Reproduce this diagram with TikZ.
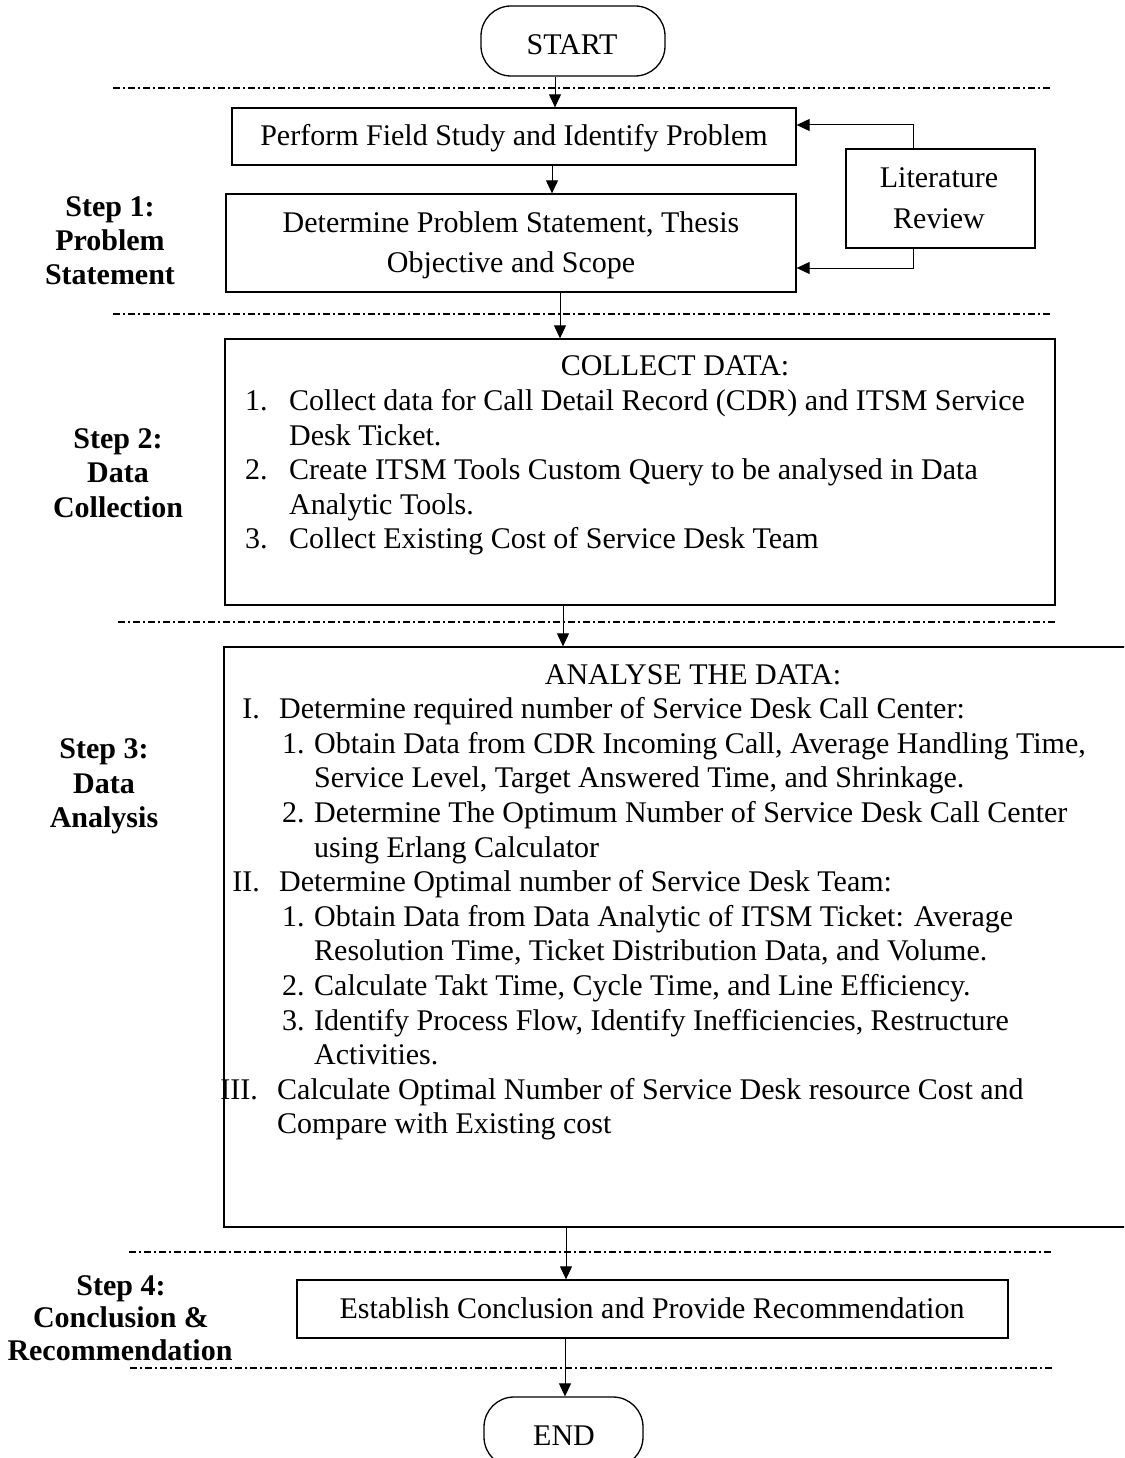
\documentclass[tikz,border=0pt]{standalone}
\usepackage{fontspec}
\setmainfont{Liberation Serif}
\usetikzlibrary{arrows.meta}
\begin{document}
\begin{tikzpicture}[x=1pt,y=-1pt,
  box/.style={draw, line width=1.3pt, inner sep=0pt},
  term/.style={box, rounded corners=30pt},
  txt/.style={inner sep=0pt, anchor=base, font=\fontsize{30}{34}\selectfont},
  txtl/.style={txt, anchor=base west},
  txtr/.style={txt, anchor=base east},
  stp/.style={txt, font=\bfseries\fontsize{30}{34}\selectfont},
  arr/.style={line width=1pt, -{Triangle[length=13pt,width=12pt]}},
  sep/.style={line width=1.2pt, dash pattern=on 7pt off 3pt on 2pt off 3pt}
]
\useasboundingbox (0,0) rectangle (1124,1458);
\clip (0,0) rectangle (1124,1458);

% phase separators
\draw[sep] (113,88) -- (1052,88);
\draw[sep] (113,314) -- (1052,314);
\draw[sep] (118,622) -- (1055,622);
\draw[sep] (129,1252) -- (1052,1252);
\draw[sep] (130,1368) -- (1052,1368);

% boxes
\node[term, minimum width=184pt, minimum height=70pt] (start) at (573,41) {};
\node[box, minimum width=564pt, minimum height=57pt] (box1) at (514,136.5) {};
\node[box, minimum width=570pt, minimum height=98pt] (box2) at (511,243) {};
\node[box, minimum width=189pt, minimum height=99pt] (lit) at (940.5,198.5) {};
\node[box, minimum width=830pt, minimum height=266pt] (box3) at (640,472) {};
\node[box, minimum width=906pt, minimum height=580pt] (box4) at (677,937) {};
\node[box, minimum width=711pt, minimum height=58pt] (box5) at (652.5,1309) {};
\node[term, minimum width=159pt, minimum height=70pt] (end) at (563.5,1432) {};

% texts of the boxes
\node[txt] (tstart) at (572,55) {START};
\node[txt] (t1) at (514,146) {Perform Field Study and Identify Problem};
\node[txt] (t2a) at (511,232) {Determine Problem Statement, Thesis};
\node[txt] (t2b) at (511,272) {Objective and Scope};
\node[txt] (tla) at (939,187) {Literature};
\node[txt] (tlb) at (939,228) {Review};

\node[txt] (c0) at (675,375) {COLLECT DATA:};
\node[txtl] (c1n) at (245,410) {1.};
\node[txtl] (c1) at (289,410) {Collect data for Call Detail Record (CDR) and ITSM Service};
\node[txtl] (c1b) at (289,445) {Desk Ticket.};
\node[txtl] (c2n) at (245,479) {2.};
\node[txtl] (c2) at (289,479) {Create ITSM Tools Custom Query to be analysed in Data};
\node[txtl] (c2b) at (289,514) {Analytic Tools.};
\node[txtl] (c3n) at (245,548) {3.};
\node[txtl] (c3) at (289,548) {Collect Existing Cost of Service Desk Team};

\node[txt] (a0) at (693,684) {ANALYSE THE DATA:};
\node[txtr] (r1) at (260,718.6) {I.};
\node[txtl] (a1) at (279,718.6) {Determine required number of Service Desk Call Center:};
\node[txtl] (a11n) at (282,753.2) {1.};
\node[txtl] (a11) at (314,753.2) {Obtain Data from CDR Incoming Call, Average Handling Time,};
\node[txtl] (a11b) at (314,787.8) {Service Level, Target Answered Time, and Shrinkage.};
\node[txtl] (a12n) at (282,822.4) {2.};
\node[txtl] (a12) at (314,822.4) {Determine The Optimum Number of Service Desk Call Center};
\node[txtl] (a12b) at (314,857) {using Erlang Calculator};
\node[txtr] (r2) at (260,891.6) {II.};
\node[txtl] (a2) at (279,891.6) {Determine Optimal number of Service Desk Team:};
\node[txtl] (a21n) at (282,926.2) {1.};
\node[txtl] (a21) at (314,926.2) {Obtain Data from Data Analytic of ITSM Ticket: Average};
\node[txtl] (a21b) at (314,960.8) {Resolution Time, Ticket Distribution Data, and Volume.};
\node[txtl] (a22n) at (282,995.4) {2.};
\node[txtl] (a22) at (314,995.4) {Calculate Takt Time, Cycle Time, and Line Efficiency.};
\node[txtl] (a23n) at (282,1030) {3.};
\node[txtl] (a23) at (314,1030) {Identify Process Flow, Identify Inefficiencies, Restructure};
\node[txtl] (a23b) at (314,1064.6) {Activities.};
\node[txtr] (r3) at (258,1099.2) {III.};
\node[txtl] (a3) at (277,1099.2) {Calculate Optimal Number of Service Desk resource Cost and};
\node[txtl] (a3b) at (277,1133.8) {Compare with Existing cost};

\node[txt] (t5) at (652,1318) {Establish Conclusion and Provide Recommendation};
\node[txt] (tend) at (564,1445) {END};

% step labels
\node[stp] (s1a) at (110,216) {Step 1:};
\node[stp] (s1b) at (110,250) {Problem};
\node[stp] (s1c) at (110,284) {Statement};
\node[stp] (s2a) at (118,448) {Step 2:};
\node[stp] (s2b) at (118,482) {Data};
\node[stp] (s2c) at (118,517) {Collection};
\node[stp] (s3a) at (104,758) {Step 3:};
\node[stp] (s3b) at (104,793) {Data};
\node[stp] (s3c) at (104,827) {Analysis};
\node[stp] (s4a) at (121,1295) {Step 4:};
\node[stp] (s4b) at (121,1327) {Conclusion \&};
\node[stp] (s4c) at (120,1360) {Recommendation};

% connector columns
\coordinate (x1) at (555,0);
\coordinate (x2) at (552,0);
\coordinate (x3) at (560,0);
\coordinate (x4) at (563,0);
\coordinate (x5) at (566,0);
\coordinate (x6) at (565,0);
\coordinate (lx) at (913,0);

% connectors
\draw[arr] (start.south -| x1) -- (box1.north -| x1);
\draw[arr] (box1.south -| x2) -- (box2.north -| x2);
\draw[arr] (box2.south -| x3) -- (box3.north -| x3);
\draw[arr] (box3.south -| x4) -- (box4.north -| x4);
\draw[arr] (box4.south -| x5) -- (box5.north -| x5);
\draw[arr] (box5.south -| x6) -- (end.north -| x6);
\draw[arr] (lit.north -| lx) |- ([yshift=11.5pt]box1.east);
\draw[arr] (lit.south -| lx) |- ([yshift=-25pt]box2.east);
\end{tikzpicture}
\end{document}
